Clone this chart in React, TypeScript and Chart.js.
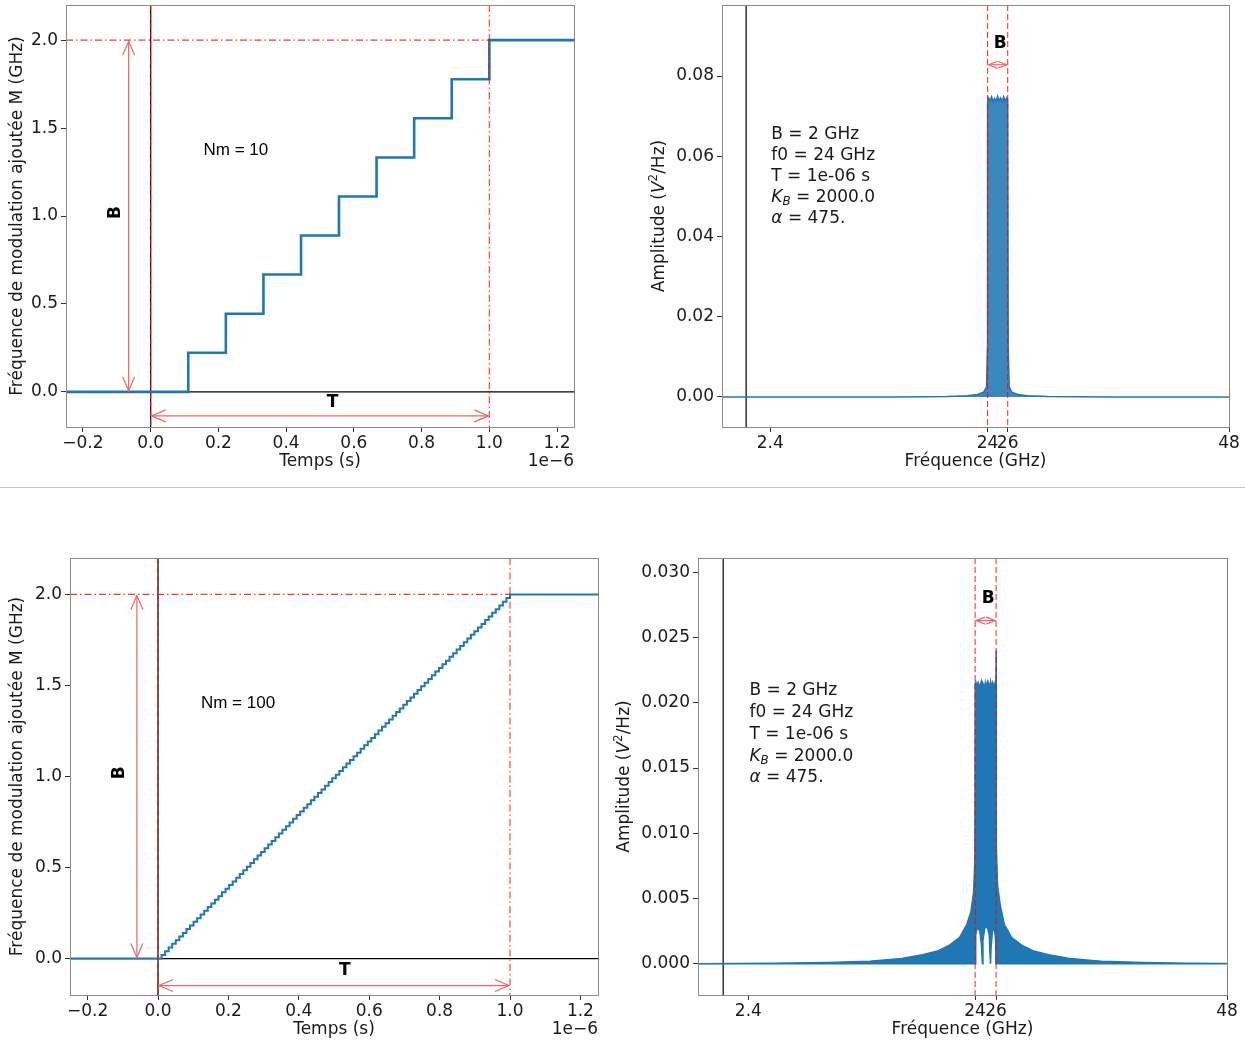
import React, { useEffect, useRef } from "react";
import { Chart, registerables } from "chart.js";

Chart.register(...registerables);

// ---------------- data ----------------
// Nm = 10 staircase (time in units of 1e-6 s, modulation frequency in GHz)
const NM10_TIME = [-0.25, 0, 0.111, 0.222, 0.333, 0.444, 0.556, 0.667, 0.778, 0.889, 1.0, 1.25];
const NM10_FREQ = [0, 0, 0.222, 0.444, 0.667, 0.889, 1.111, 1.333, 1.556, 1.778, 2.0, 2.0];

// Nm = 100 staircase
const NM100_TIME = [
  -0.25, 0,
  0.0101, 0.0202, 0.0303, 0.0404, 0.0505, 0.0606, 0.0707, 0.0808, 0.0909, 0.1010,
  0.1111, 0.1212, 0.1313, 0.1414, 0.1515, 0.1616, 0.1717, 0.1818, 0.1919, 0.2020,
  0.2121, 0.2222, 0.2323, 0.2424, 0.2525, 0.2626, 0.2727, 0.2828, 0.2929, 0.3030,
  0.3131, 0.3232, 0.3333, 0.3434, 0.3535, 0.3636, 0.3737, 0.3838, 0.3939, 0.4040,
  0.4141, 0.4242, 0.4343, 0.4444, 0.4545, 0.4646, 0.4747, 0.4848, 0.4949, 0.5051,
  0.5152, 0.5253, 0.5354, 0.5455, 0.5556, 0.5657, 0.5758, 0.5859, 0.5960, 0.6061,
  0.6162, 0.6263, 0.6364, 0.6465, 0.6566, 0.6667, 0.6768, 0.6869, 0.6970, 0.7071,
  0.7172, 0.7273, 0.7374, 0.7475, 0.7576, 0.7677, 0.7778, 0.7879, 0.7980, 0.8081,
  0.8182, 0.8283, 0.8384, 0.8485, 0.8586, 0.8687, 0.8788, 0.8889, 0.8990, 0.9091,
  0.9192, 0.9293, 0.9394, 0.9495, 0.9596, 0.9697, 0.9798, 0.9899, 1.0,
  1.25,
];
const NM100_FREQ = [
  0, 0,
  0.020, 0.040, 0.061, 0.081, 0.101, 0.121, 0.141, 0.162, 0.182, 0.202,
  0.222, 0.242, 0.263, 0.283, 0.303, 0.323, 0.343, 0.364, 0.384, 0.404,
  0.424, 0.444, 0.465, 0.485, 0.505, 0.525, 0.545, 0.566, 0.586, 0.606,
  0.626, 0.646, 0.667, 0.687, 0.707, 0.727, 0.747, 0.768, 0.788, 0.808,
  0.828, 0.848, 0.869, 0.889, 0.909, 0.929, 0.949, 0.970, 0.990, 1.010,
  1.030, 1.051, 1.071, 1.091, 1.111, 1.131, 1.152, 1.172, 1.192, 1.212,
  1.232, 1.253, 1.273, 1.293, 1.313, 1.333, 1.354, 1.374, 1.394, 1.414,
  1.434, 1.455, 1.475, 1.495, 1.515, 1.535, 1.556, 1.576, 1.596, 1.616,
  1.636, 1.657, 1.677, 1.697, 1.717, 1.737, 1.758, 1.778, 1.798, 1.818,
  1.838, 1.859, 1.879, 1.899, 1.919, 1.939, 1.960, 1.980, 2.000,
  2.000,
];

// Spectrum for Nm = 10 (GHz, V^2/Hz)
const TR_FREQ = [-2.4, 15, 18, 20, 22, 23, 23.6, 23.9, 23.98, 24.0, 24.1, 24.25, 24.4, 24.55, 24.7, 24.85, 25.0, 25.15, 25.3, 25.45, 25.6, 25.75, 25.9, 26.0, 26.05, 26.15, 26.4, 27, 28, 30, 33, 36, 48];
const TR_AMP = [0, 0, 0.00005, 0.0001, 0.0003, 0.0006, 0.0012, 0.0025, 0.012, 0.0735, 0.0745, 0.0738, 0.0748, 0.0736, 0.0744, 0.0737, 0.0749, 0.0738, 0.0745, 0.0736, 0.0748, 0.0737, 0.0745, 0.074, 0.012, 0.0025, 0.0012, 0.0006, 0.0003, 0.0001, 0.00005, 0, 0];

// Spectrum for Nm = 100: upper and lower envelope of the dense trace
const BR_FREQ = [-2.4, 5, 10, 14, 17, 19, 20.5, 21.5, 22.5, 23.2, 23.6, 23.85, 23.97, 24.0, 24.06, 24.15, 24.3, 24.45, 24.6, 24.7, 24.75, 24.9, 24.97, 25.05, 25.2, 25.35, 25.42, 25.47, 25.52, 25.65, 25.8, 25.95, 25.98, 26.0, 26.03, 26.15, 26.4, 26.8, 27.5, 28.5, 29.5, 31, 33, 36, 40, 44, 48];
const BR_UPPER = [0, 0.00005, 0.0001, 0.0002, 0.0004, 0.0007, 0.001, 0.0014, 0.002, 0.003, 0.004, 0.0055, 0.008, 0.0215, 0.0217, 0.0213, 0.0216, 0.0212, 0.0217, 0.0214, 0.0215, 0.0212, 0.0216, 0.0213, 0.0217, 0.0214, 0.0213, 0.0216, 0.0212, 0.0216, 0.0213, 0.0217, 0.0215, 0.024, 0.009, 0.006, 0.0045, 0.003, 0.002, 0.0014, 0.001, 0.0007, 0.0004, 0.0002, 0.0001, 0.00005, 0.00002];
const BR_LOWER = [0, 0, 0, 0, 0, 0, 0, 0, 0, 0, 0, 0, 0, 0, 0.0022, 0.0026, 0.0027, 0.0025, 0.0015, 0, 0.0018, 0.0026, 0.0028, 0.0028, 0.0027, 0.0022, 0.0008, 0, 0.0012, 0.0025, 0.0027, 0.002, 0, 0, 0, 0, 0, 0, 0, 0, 0, 0, 0, 0, 0, 0, 0];

// Tick values
const TIME_TICKS = [-0.2, 0, 0.2, 0.4, 0.6, 0.8, 1.0, 1.2];
const MOD_TICKS = [0, 0.5, 1.0, 1.5, 2.0];
const FREQ_TICKS = [2.4, 24, 26, 48];
const AMP_TICKS_TOP = [0, 0.02, 0.04, 0.06, 0.08];
const AMP_TICKS_BOTTOM = [0, 0.005, 0.01, 0.015, 0.02, 0.025, 0.03];

// Reference values (GHz / µs)
const BAND_EDGES = [24, 26];
const PERIOD_END = 1.0;
const B_LEVEL = 2.0;

// ---------------- styling ----------------
const FONT = '"DejaVu Sans", sans-serif';
const TXT = "#1a1a1a";
const BLUE = "#1f77b4";
const RED = "rgba(255,0,0,0.8)";
const ARROW = "#f06464";
const TICK_SIZE = 17;
const XH = 40;
const DASHED = [6, 3];
const DASHDOT = [7, 3, 1.5, 3];

type Area = { l: number; t: number; r: number; b: number };

type Run = { t: string; italic?: boolean; bold?: boolean; size?: number; dy?: number };

function runFont(r: Run, base: number, family = FONT) {
  return `${r.italic ? "italic " : ""}${r.bold ? "bold " : ""}${(r.size ?? 1) * base}px ${family}`;
}
function drawRuns(ctx: CanvasRenderingContext2D, runs: Run[], x: number, y: number, base: number, align: "left" | "center" | "right") {
  let w = 0;
  for (const r of runs) {
    ctx.font = runFont(r, base);
    w += ctx.measureText(r.t).width;
  }
  let cx = align === "center" ? x - w / 2 : align === "right" ? x - w : x;
  ctx.textAlign = "left";
  ctx.textBaseline = "middle";
  for (const r of runs) {
    ctx.font = runFont(r, base);
    ctx.fillText(r.t, cx, y + (r.dy ?? 0) * base);
    cx += ctx.measureText(r.t).width;
  }
}

const fmtMinus = (s: string) => s.replace("-", "\u2212");

function axis(kind: "x" | "y", area: Area, min: number, max: number, ticks: number[], fmt: (v: number) => string) {
  const common: any = {
    type: "linear",
    min,
    max,
    afterBuildTicks: (s: any) => {
      s.ticks = ticks.map((v) => ({ value: v }));
    },
    ticks: {
      autoSkip: false,
      maxRotation: 0,
      minRotation: 0,
      padding: kind === "x" ? 1 : 3,
      color: TXT,
      font: { family: FONT, size: TICK_SIZE },
      callback: (v: any) => fmt(Number(v)),
    },
    grid: { display: true, drawOnChartArea: false, drawTicks: true, tickLength: 5, color: "#333", lineWidth: 1 },
    border: { display: false },
  };
  if (kind === "x") {
    return {
      ...common,
      position: "bottom",
      afterFit: (s: any) => {
        s.height = XH;
        s.paddingLeft = 0;
        s.paddingRight = 0;
      },
    };
  }
  return {
    ...common,
    position: "left",
    afterFit: (s: any) => {
      s.width = area.l;
      s.paddingTop = 0;
      s.paddingBottom = 0;
    },
  };
}

function line(ctx: CanvasRenderingContext2D, x1: number, y1: number, x2: number, y2: number, color: string, width: number, dash: number[] = []) {
  ctx.save();
  ctx.strokeStyle = color;
  ctx.lineWidth = width;
  ctx.setLineDash(dash);
  ctx.beginPath();
  ctx.moveTo(x1, y1);
  ctx.lineTo(x2, y2);
  ctx.stroke();
  ctx.restore();
}

function head(ctx: CanvasRenderingContext2D, tx: number, ty: number, fx: number, fy: number, hl: number, hw: number) {
  const a = Math.atan2(ty - fy, tx - fx);
  const bx = tx - hl * Math.cos(a);
  const by = ty - hl * Math.sin(a);
  const px = -Math.sin(a) * hw;
  const py = Math.cos(a) * hw;
  ctx.beginPath();
  ctx.moveTo(bx + px, by + py);
  ctx.lineTo(tx, ty);
  ctx.lineTo(bx - px, by - py);
  ctx.stroke();
}

function arrow2(ctx: CanvasRenderingContext2D, x1: number, y1: number, x2: number, y2: number, hl: number, hw: number) {
  ctx.save();
  ctx.strokeStyle = ARROW;
  ctx.lineWidth = 1.2;
  ctx.setLineDash([]);
  ctx.beginPath();
  ctx.moveTo(x1, y1);
  ctx.lineTo(x2, y2);
  ctx.stroke();
  head(ctx, x1, y1, x2, y2, hl, hw);
  head(ctx, x2, y2, x1, y1, hl, hw);
  ctx.restore();
}

function frame(c: any) {
  const { ctx, chartArea: a } = c;
  ctx.save();
  ctx.strokeStyle = "#8a8a8a";
  ctx.lineWidth = 1;
  ctx.strokeRect(Math.round(a.left) + 0.5, Math.round(a.top) + 0.5, Math.round(a.right - a.left), Math.round(a.bottom - a.top));
  ctx.restore();
}

function yTitle(c: any, x: number, runs: Run[]) {
  const { ctx, chartArea: a } = c;
  ctx.save();
  ctx.fillStyle = TXT;
  ctx.translate(x, (a.top + a.bottom) / 2);
  ctx.rotate(-Math.PI / 2);
  drawRuns(ctx, runs, 0, 0, 17, "center");
  ctx.restore();
}

function xTitle(c: any, text: string, offset?: string) {
  const { ctx, chartArea: a } = c;
  ctx.save();
  ctx.fillStyle = TXT;
  drawRuns(ctx, [{ t: text }], (a.left + a.right) / 2, a.bottom + 35, 17, "center");
  if (offset) drawRuns(ctx, [{ t: offset }], a.right, a.bottom + 35, 17, "right");
  ctx.restore();
}

function clipArea(c: any) {
  const { ctx, chartArea: a } = c;
  ctx.beginPath();
  ctx.rect(a.left, a.top, a.right - a.left, a.bottom - a.top);
  ctx.clip();
}

type TimeNote = { arrowX: number; bX: number; bY: number; arrowY: number; tX: number; tY: number; nmX: number; nmY: number; nm: string; titleX: number };

function timePlugin(note: TimeNote) {
  return {
    id: "timeOverlay",
    beforeDatasetsDraw(c: any) {
      const { ctx, chartArea: a, scales } = c;
      ctx.save();
      clipArea(c);
      const y0 = scales.y.getPixelForValue(0);
      const x0 = scales.x.getPixelForValue(0);
      line(ctx, a.left, y0, a.right, y0, "#000", 1.4);
      line(ctx, x0, a.top, x0, a.bottom, "#000", 1.2);
      ctx.restore();
    },
    afterDatasetsDraw(c: any) {
      const { ctx, chartArea: a, scales } = c;
      const X = (v: number) => scales.x.getPixelForValue(v);
      const Y = (v: number) => scales.y.getPixelForValue(v);
      ctx.save();
      clipArea(c);
      line(ctx, X(0), a.top, X(0), a.bottom, RED, 1.1, DASHED);
      line(ctx, X(PERIOD_END), a.top, X(PERIOD_END), a.bottom, RED, 1.1, DASHDOT);
      line(ctx, a.left, Y(B_LEVEL), X(PERIOD_END), Y(B_LEVEL), RED, 1.1, DASHDOT);
      arrow2(ctx, X(note.arrowX), Y(B_LEVEL) + 1, X(note.arrowX), Y(0) - 1, 14, 6);
      arrow2(ctx, X(0) + 1, Y(note.arrowY), X(PERIOD_END) - 1, Y(note.arrowY), 14, 6);
      ctx.fillStyle = "#000";
      // B label (rotated)
      ctx.save();
      ctx.translate(X(note.bX), Y(note.bY));
      ctx.rotate(-Math.PI / 2);
      drawRuns(ctx, [{ t: "B", bold: true }], 0, 0, 17, "center");
      ctx.restore();
      drawRuns(ctx, [{ t: "T", bold: true }], X(note.tX), Y(note.tY), 17, "center");
      ctx.font = '17px "Liberation Sans", Arial, sans-serif';
      ctx.textAlign = "left";
      ctx.textBaseline = "middle";
      ctx.fillText(note.nm, X(note.nmX), Y(note.nmY));
      ctx.restore();
    },
    afterDraw(c: any) {
      frame(c);
      yTitle(c, note.titleX, [{ t: "Fréquence de modulation ajoutée M (GHz)" }]);
      xTitle(c, "Temps (s)", "1e\u22126");
    },
  };
}

type SpecNote = { bX: number; bY: number; arrowY: number; infoX: number; infoY: number; gap: number; titleX: number };

const INFO_LINES: Run[][] = [
  [{ t: "B = 2 GHz" }],
  [{ t: "f0 = 24 GHz" }],
  [{ t: "T = 1e-06 s" }],
  [{ t: "K", italic: true }, { t: "B", italic: true, size: 0.7, dy: 0.3 }, { t: " = 2000.0" }],
  [{ t: "α", italic: true }, { t: " = 475." }],
];

function specPlugin(note: SpecNote) {
  return {
    id: "specOverlay",
    beforeDatasetsDraw(c: any) {
      const { ctx, chartArea: a, scales } = c;
      ctx.save();
      clipArea(c);
      const x0 = scales.x.getPixelForValue(0);
      line(ctx, x0, a.top, x0, a.bottom, "#000", 1.2);
      ctx.restore();
    },
    afterDatasetsDraw(c: any) {
      const { ctx, chartArea: a, scales } = c;
      const X = (v: number) => scales.x.getPixelForValue(v);
      const Y = (v: number) => scales.y.getPixelForValue(v);
      ctx.save();
      clipArea(c);
      for (const f of BAND_EDGES) line(ctx, X(f), a.top, X(f), a.bottom, RED, 1.1, DASHED);
      arrow2(ctx, X(BAND_EDGES[0]) + 1, Y(note.arrowY), X(BAND_EDGES[1]) - 1, Y(note.arrowY), 9, 3.5);
      ctx.fillStyle = "#000";
      drawRuns(ctx, [{ t: "B", bold: true }], X(note.bX), Y(note.bY), 17, "center");
      ctx.fillStyle = TXT;
      INFO_LINES.forEach((runs, i) => {
        drawRuns(ctx, runs, X(note.infoX), Y(note.infoY) + i * note.gap, 17, "left");
      });
      ctx.restore();
    },
    afterDraw(c: any) {
      frame(c);
      yTitle(c, note.titleX, [{ t: "Amplitude (" }, { t: "V", italic: true }, { t: "2", size: 0.7, dy: -0.35 }, { t: "/Hz)" }]);
      xTitle(c, "Fréquence (GHz)");
    },
  };
}

const pts = (xs: number[], ys: number[]) => xs.map((x, i) => ({ x, y: ys[i] }));

function baseOptions(area: Area, w: number, h: number, scales: any) {
  return {
    responsive: false,
    animation: false,
    devicePixelRatio: 1,
    events: [],
    layout: { autoPadding: false, padding: { left: 0, top: area.t, right: w - area.r, bottom: h - area.b - XH } },
    plugins: { legend: { display: false }, tooltip: { enabled: false } },
    elements: { point: { radius: 0 }, line: { tension: 0 } },
    scales,
  };
}

const f1 = (v: number) => fmtMinus(v.toFixed(1));

function configTL(area: Area, w: number, h: number) {
  return {
    type: "line",
    data: {
      datasets: [{ data: pts(NM10_TIME, NM10_FREQ), borderColor: BLUE, borderWidth: 2.6, stepped: "before", pointRadius: 0, fill: false }],
    },
    options: baseOptions(area, w, h, {
      x: axis("x", area, -0.25, 1.25, TIME_TICKS, f1),
      y: axis("y", area, -0.2, 2.2, MOD_TICKS, f1),
    }),
    plugins: [timePlugin({ arrowX: -0.065, bX: -0.103, bY: 1.02, arrowY: -0.137, tX: 0.537, tY: -0.063, nmX: 0.156, nmY: 1.373, nm: "Nm = 10", titleX: 18 })],
  };
}

function configBL(area: Area, w: number, h: number) {
  return {
    type: "line",
    data: {
      datasets: [{ data: pts(NM100_TIME, NM100_FREQ), borderColor: BLUE, borderWidth: 2, stepped: "before", pointRadius: 0, fill: false }],
    },
    options: baseOptions(area, w, h, {
      x: axis("x", area, -0.25, 1.25, TIME_TICKS, f1),
      y: axis("y", area, -0.2, 2.2, MOD_TICKS, f1),
    }),
    plugins: [timePlugin({ arrowX: -0.06, bX: -0.108, bY: 1.02, arrowY: -0.148, tX: 0.531, tY: -0.066, nmX: 0.122, nmY: 1.403, nm: "Nm = 100", titleX: 18 })],
  };
}

const fFreq = (v: number) => String(v);

function configTR(area: Area, w: number, h: number) {
  return {
    type: "line",
    data: {
      datasets: [{ data: pts(TR_FREQ, TR_AMP), borderColor: BLUE, backgroundColor: "rgba(31,119,180,0.88)", borderWidth: 1.5, pointRadius: 0, fill: "origin" }],
    },
    options: baseOptions(area, w, h, {
      x: axis("x", area, -2.4, 48, FREQ_TICKS, fFreq),
      y: axis("y", area, -0.0075, 0.0977, AMP_TICKS_TOP, (v) => v.toFixed(2)),
    }),
    plugins: [specPlugin({ bX: 25.25, bY: 0.088, arrowY: 0.0828, infoX: 2.5, infoY: 0.0655, gap: 21, titleX: 40 })],
  };
}

function configBR(area: Area, w: number, h: number) {
  return {
    type: "line",
    data: {
      datasets: [
        { data: pts(BR_FREQ, BR_UPPER), borderColor: BLUE, backgroundColor: BLUE, borderWidth: 1.3, pointRadius: 0, fill: "+1" },
        { data: pts(BR_FREQ, BR_LOWER), borderColor: BLUE, borderWidth: 1.5, pointRadius: 0, fill: false },
      ],
    },
    options: baseOptions(area, w, h, {
      x: axis("x", area, -2.4, 48, FREQ_TICKS, fFreq),
      y: axis("y", area, -0.0024, 0.0311, AMP_TICKS_BOTTOM, (v) => v.toFixed(3)),
    }),
    plugins: [specPlugin({ bX: 25.25, bY: 0.028, arrowY: 0.0263, infoX: 2.5, infoY: 0.0209, gap: 21.7, titleX: 20 })],
  };
}

type PanelProps = { left: number; top: number; w: number; h: number; area: Area; make: (a: Area, w: number, h: number) => any };

function Panel({ left, top, w, h, area, make }: PanelProps) {
  const ref = useRef<HTMLCanvasElement>(null);
  useEffect(() => {
    const chart = new Chart(ref.current as HTMLCanvasElement, make(area, w, h));
    return () => chart.destroy();
  }, []);
  return (
    <div style={{ position: "absolute", left, top, width: w, height: h }}>
      <canvas ref={ref} width={w} height={h} style={{ width: w, height: h, display: "block" }} />
    </div>
  );
}

export default function App() {
  return (
    <div style={{ position: "fixed", left: 0, top: 0, width: 1245, height: 1045, background: "#fff", overflow: "hidden" }}>
      <Panel left={0} top={0} w={620} h={487} area={{ l: 66, t: 5, r: 574, b: 427 }} make={configTL} />
      <Panel left={620} top={0} w={625} h={487} area={{ l: 102, t: 5, r: 609, b: 427 }} make={configTR} />
      <div style={{ position: "absolute", left: 0, top: 487, width: 1245, height: 1, background: "#c4c4c4" }} />
      <Panel left={0} top={488} w={605} h={557} area={{ l: 70, t: 70, r: 598, b: 507 }} make={configBL} />
      <Panel left={605} top={488} w={640} h={557} area={{ l: 93, t: 70, r: 622, b: 507 }} make={configBR} />
    </div>
  );
}
